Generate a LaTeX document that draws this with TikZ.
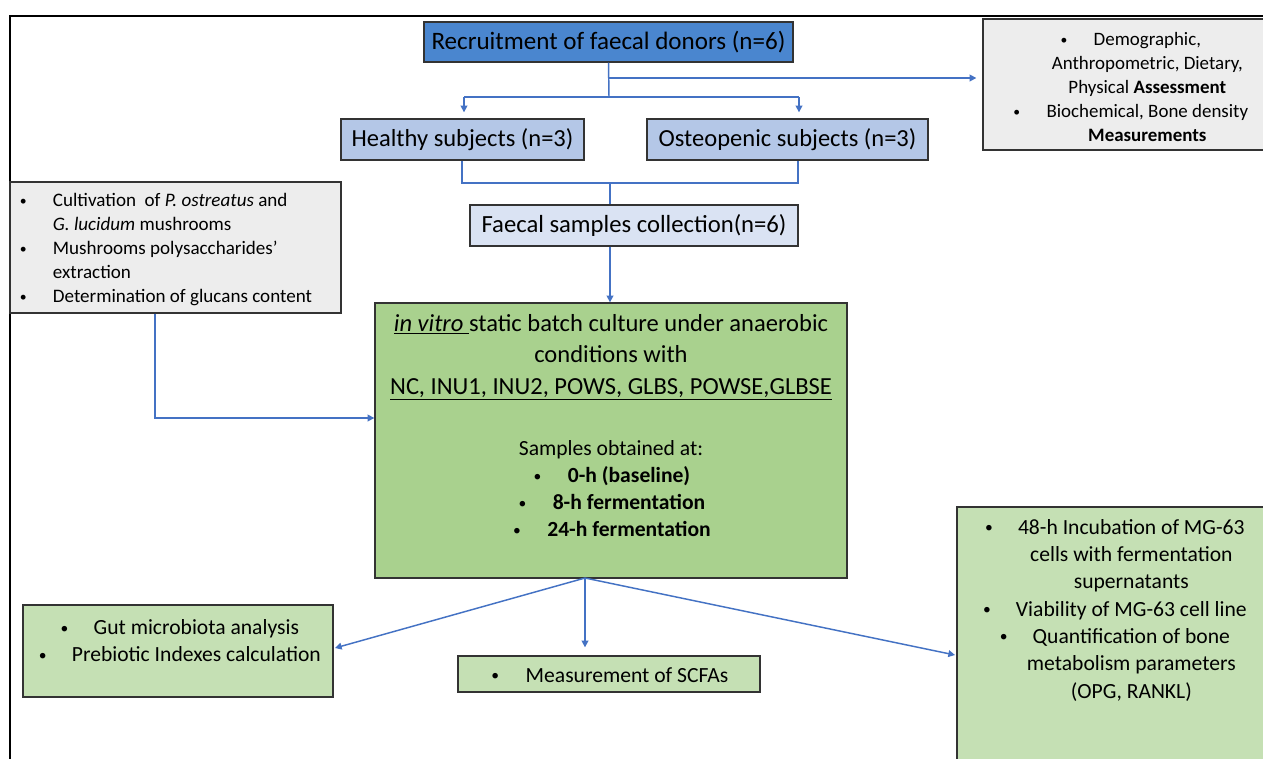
\documentclass[tikz,border=0pt]{standalone}
\usepackage{fontspec}
\setmainfont{Carlito}
\usetikzlibrary{fit,arrows.meta}
\definecolor{dblue}{HTML}{4A86CF}
\definecolor{mblue}{HTML}{B4C7E7}
\definecolor{lblue}{HTML}{DAE3F3}
\definecolor{dgreen}{HTML}{A9D18E}
\definecolor{lgreen}{HTML}{C5E0B4}
\definecolor{lgray}{HTML}{EDEDED}
\definecolor{arrowblue}{HTML}{4472C4}
\newcommand\fs[2]{\fontsize{#1}{#2}\selectfont}
\newcommand\bu[1]{\makebox[#1][l]{\hspace*{0.08em}\raisebox{0.07em}{\scalebox{0.72}{•}}}}
\begin{document}
\begin{tikzpicture}[x=0.75pt,y=-0.75pt,
  bx/.style={draw=black!80, line width=1pt, inner sep=0pt},
  conn/.style={draw=arrowblue, line width=1.1pt},
  arr/.style={conn, -{Triangle[length=5pt,width=5pt]}},
  txt/.style={inner sep=0pt, align=center}]
\clip (0,0) rectangle (1263,758);
\fill[white] (0,0) rectangle (1263,758);
\draw[line width=0.8pt] (10,762) -- (10,16) -- (1267,16);

% boxes
\node[bx, fill=dblue, fit={(424,22)(793,62)}] (rec) {};
\node[bx, fill=mblue, fit={(341,119)(584,160)}] (hea) {};
\node[bx, fill=mblue, fit={(647,119)(928,160)}] (ost) {};
\node[bx, fill=lgray, fit={(983,19)(1272,150)}] (gr) {};
\node[bx, fill=lgray, fit={(10,182)(341,313)}] (lg) {};
\node[bx, fill=lblue, fit={(470,205)(798,246)}] (fae) {};
\node[bx, fill=dgreen, fit={(375,303)(847,578)}] (grn) {};
\node[bx, fill=lgreen, fit={(23,605)(333,697)}] (lb) {};
\node[bx, fill=lgreen, fit={(458,656)(760,692)}] (scf) {};
\node[bx, fill=lgreen, fit={(957,507)(1275,770)}] (rg) {};

% texts
\node[txt, font=\fs{18.8}{22}] (rect) at (rec.center) {Recruitment of faecal donors (n=6)};
\node[txt, font=\fs{18.4}{22}] (heat) at (hea.center) {Healthy subjects (n=3)};
\node[txt, font=\fs{18.4}{22}] (ostt) at (ost.center) {Osteopenic subjects (n=3)};
\node[txt, font=\fs{18.5}{22}] (faet) at (fae.center) {Faecal samples collection(n=6)};
\node[txt, font=\fs{14.2}{18}] (grt) at (1130,87) {\bu{26pt}Demographic,\\\hspace*{26pt}Anthropometric, Dietary,\\\hspace*{26pt}Physical \textbf{Assessment}\\\bu{26pt}Biochemical, Bone density\\\hspace*{26pt}\textbf{Measurements}};
\node[txt, align=left, anchor=west, font=\fs{14.3}{18}] (lgt) at (18,250) {\bu{26pt}Cultivation\ \ of \textit{P. ostreatus} and\\\hspace*{26pt}\textit{G. lucidum} mushrooms\\\bu{26pt}Mushrooms polysaccharides’\\\hspace*{26pt}extraction\\\bu{26pt}Determination of glucans content};
\node[txt, font=\fs{18.4}{23.6}] (grnt) at (611,357) {\underline{\textit{in vitro }}static batch culture under anaerobic\\conditions with\\\underline{NC, INU1, INU2, POWS, GLBS, POWSE,GLBSE}};
\node[txt, font=\fs{16.2}{20.25}] (grns) at (611,489) {Samples obtained at:\\\bu{27pt}\textbf{0-h (baseline)}\\\bu{27pt}\textbf{8-h fermentation}\\\bu{27pt}\textbf{24-h fermentation}};
\node[txt, font=\fs{16.2}{20.25}] (lbt) at (179,641) {\bu{26pt}Gut microbiota analysis\\\bu{26pt}Prebiotic Indexes calculation};
\node[txt, font=\fs{16.2}{18}] (scft) at (609,675) {\bu{27pt}Measurement of SCFAs};
\node[txt, font=\fs{16.2}{20.5}] (rgt) at (1114,610) {\bu{26pt}48-h Incubation of MG-63\\\hspace*{26pt}cells with fermentation\\\hspace*{26pt}supernatants\\\bu{26pt}Viability of MG-63 cell line\\\bu{26pt}Quantification of bone\\\hspace*{26pt}metabolism parameters\\\hspace*{26pt}(OPG, RANKL)};

% connectors
\coordinate (j0) at (609,97);
\coordinate (jb) at (609,78);
\coordinate (jl) at (464,97);
\coordinate (jr) at (799,97);
\draw[conn] (rec.south) -- (j0);
\draw[arr, shorten >=4.5pt] (jb) -- (gr.west |- jb);
\draw[conn] (jl) -- (jr);
\draw[arr, shorten >=4.5pt] (jl) -- (hea.north -| jl);
\draw[arr, shorten >=4.5pt] (jr) -- (ost.north -| jr);
\coordinate (k1) at (462,183);
\coordinate (k2) at (610,183);
\coordinate (k3) at (798,183);
\draw[conn] (hea.south -| k1) -- (k1) -- (k3) -- (ost.south -| k3);
\draw[conn] (k2) -- (fae.north -| k2);
\draw[arr] (fae.south -| k2) -- (grn.north -| k2);
\coordinate (m1) at (155,418);
\draw[arr] (lg.south -| m1) -- (m1) -- (grn.west |- m1);
\coordinate (b0) at (585,578);
\coordinate (b1) at (335,648);
\coordinate (b3) at (955,655);
\draw[arr] (b0) -- (b1);
\draw[arr, shorten >=6pt] (b0) -- (scf.north -| b0);
\draw[arr] (b0) -- (b3);
\end{tikzpicture}
\end{document}
